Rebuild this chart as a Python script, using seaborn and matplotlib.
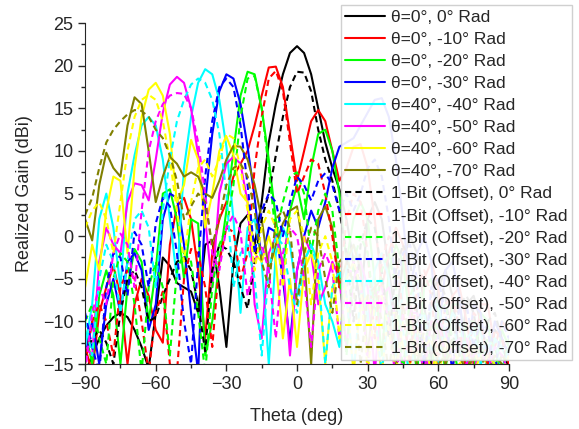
# Realized gain vs theta, 8 simulated beams + 8 1-bit (offset) beams.

import numpy as np
import pandas as pd
import seaborn as sns
import matplotlib
matplotlib.use('Agg')
import matplotlib.pyplot as plt
from matplotlib.ticker import MultipleLocator

sns.set_style('ticks')
plt.rcParams['font.family'] = ['Liberation Sans', 'DejaVu Sans']

# theta grid, 3 deg step, -90..90
theta = list(range(-90, 91, 3))

# solid: theta=0 / theta=40 beams
s0 = [-16, -14, -12, -10.5, -9.5, -9, -9.5, -11, -13, -15.5,
      -9, -2.5, -3.5, -5.5, -6, -6.5, -9, -1, -0.5, -6,
      -13, -3, 1.5, 2.5, -1, 4, 11, 15.5, 19, 21.5,
      22.3, 21.5, 19, 15, 11, 8, 5.5, 2, -3, -8,
      2, 4, 2, -4, -10, -3, 0, -2, -8, -15,
      -6, -4, -7, -14, -8, -7, -10, -16, -11, -12, -14]
s10 = [-13, -16, -9, -6, -3.5, -7, -15, -8, -5, -7,
       -11, -12.5, -1, 3.5, 4.5, 2, -4, -12, -2, 2,
       4, 7, 8.5, 10, 13, 16.5, 19.8, 19.9, 17.5, 12,
       6.5, 10, 13.5, 14.8, 13.5, 10, 6.5, 8, 10.5, 10.8,
       8, 2, -6, -2, 1, -1, -8, -14, -5, -3,
       -6, -15, -7, -6, -10, -15, -8, -8, -13, -10, -11]
s20 = [-11, -15, -7, -4, -7, -15, -6, -1.5, -3, -10,
       -4, 5, 5.5, 2, -5, 2, 1.5, -14, -10, -3,
       3, 10, 16.5, 19.3, 19, 15, 9, 2, -4, 3,
       6, 2, 8, 12, 12.5, 10, 5, -3, 2, 4,
       2, -5, -14, -4, -1, -3, -10, -16, -6, -5,
       -9, -16, -8, -8, -13, -16, -9, -10, -16, -11, -13]
s30 = [-14, -10, -15, -8, -5, -9, -3, -2, -4, -11,
       -8, 2, 5, 4.5, -1, -9, -16, 4, 12, 17,
       19, 18.5, 15.5, 10.5, 4.5, -3, 1, 0.5, -5, -12.5,
       -4, 0, 3, 1, 4, 8, 10.5, 11, 11.5, 13,
       14.5, 16, 16.2, 14, 9, 2, -6, -2, 0, -3,
       -12, -4, -3, -7, -16, -8, -9, -15, -10, -12, -14]
s40 = [-13, -8, 2, 5, 1, -6, 5, 9.5, 13, 14,
       13, 9, 2, -5, 8, 14, 18, 19.6, 19, 16,
       10.5, 2, -9, 1, 2, -3, -15, -2, 1, -1,
       -7, -3, -1, -3, -8, -10, -13, -4, -1, -3,
       -10, -4, -2, -5, -14, -6, -5, -9, -17, -8,
       -8, -12, -9, -10, -15, -10, -11, -16, -12, -13, -15]
s50 = [-13, -14, -3, 1, -1, -2, 4, 6.2, 6, 4.2,
       9, 14.5, 17.8, 18.7, 18, 15, 9.5, 2, -6, 5,
       8.5, 9.3, 8.5, 4, -8, -12, -2, 0, -3, -14,
       -4, 0, -2, -8, -6, -3, -5, -13, -5, -3,
       -6, -16, -7, -6, -10, -16, -9, -9, -13, -17,
       -10, -11, -15, -12, -12, -16, -13, -14, -16, -14, -15]
s60 = [-6, -1, -4, 3, 7, 6.5, -2, 8, 14, 17.2,
       18, 16.5, 12, 4, 6, 11.3, 9, 1, 5, 10,
       11.7, 9.5, 5, 4, -2, -3, 0, -3, -12, -5,
       -13, -4, -2, -5, -15, -6, -4, -7, -16, -8,
       -7, -11, -16, -9, -9, -13, -15, -11, -12, -16,
       -13, -12, -15, -14, -13, -16, -14, -15, -17, -14, -15]
s70 = [2, -0.5, 6, 9.8, 8, 7, 13, 16.3, 15.5, 10,
       4, 7, 9.3, 8.5, 7, 7.5, 7, 5, 4.5, 6.5,
       9, 10.6, 10.5, 9, 6, 2, -4, -1, 1.5, 3,
       3.5, -2, -15, 2, 3.5, 1, -6, -3, -1, -4,
       -14, -6, -5, -9, -16, -8, -8, -12, -16, -10,
       -11, -15, -13, -12, -16, -14, -13, -15, -16, -14, -15]

# dashed: 1-Bit (Offset)
d0 = [-14, -12, -11, -12.5, -15, -9, -5, -4, -6, -10,
      -9.5, -7, -5, -3, -2.5, -4, -8, -13.5, -4, -1,
      -1.5, -3, -6, -8.5, -3, 2, 5, 9.5, 14, 17.5,
      19.3, 19.2, 17, 12.5, 9, 6.5, 3, -2, -10, -1,
      2, 1, -4, -12, -4, -1, -3, -9, -15, -7,
      -5, -7, -13, -8, -7, -9, -14, -10, -9, -12, -16]
d10 = [-15, -10, -8, -10, -14, -6, -4, -5, -10, -16,
       -9, -6.5, -15, -16, -5, -1.5, -2, -6, -13, -3,
       1, 0.5, -5, -2, 8, 14, 18.5, 19.4, 17, 11,
       5, 7, 9, 8.5, 5, 0, -6, 2, 5, 4,
       -2, -12, -3, 0, -2, -9, -15, -6, -4, -7,
       -15, -8, -7, -11, -16, -9, -10, -15, -11, -12, -15]
d20 = [-10, -8, -12, -15, -5, -2, -3, -8, -16, -6,
       -3, -6, -14, -4, -2, -3, -9, -16, -6, -1,
       1, 6, 14, 18.5, 18.8, 15, 8, 0, 4, 7,
       7.5, 5, -2, 3, 5, 3, -4, -14, -3, 0,
       -2, -9, -4, -2, -6, -16, -7, -5, -9, -16,
       -9, -8, -12, -17, -10, -10, -14, -12, -13, -16, -12]
d30 = [-9, -13, -16, -6, -2, -2.5, -7, 0.5, -1, -6,
       1.5, 4.5, 3.5, -2, -10, -15, -3, 7, 13.5, 17.5,
       18.5, 17.5, 13, 6, -2, 3, 5, 4, 0, 4,
       7, 6, 4.2, 6.5, 7.4, 6, 3, 5, 3, 5,
       8, 9, 7, 2, -6, -2, -1, -5, -15, -6,
       -5, -9, -16, -8, -8, -13, -10, -11, -16, -10, -12]
d40 = [-10, -14, -5, -1, -3, -9, -3, 2, 3, 1,
       -6, 3, 9, 13.5, 16, 17.8, 18.5, 18, 16, 12,
       5, -6, -2, -1, -5, -14, -4, 0, -1, -6,
       -9, -3, -1, -4, -15, -6, -4, -7, -16, -7,
       -5, -9, -16, -8, -7, -11, -17, -10, -9, -13,
       -15, -10, -10, -14, -12, -11, -15, -13, -12, -16, -13]
d50 = [-16, -9, -6, -8, -2, 0.3, -1, -6, 3, 10,
       13.5, 15.5, 16.5, 16.8, 16.7, 15, 11, 5, -2, -4,
       1, 2.5, 0.5, -7, -3, -1, -4, -12, -2, 1,
       0, -5, -13, -4, -2, -4, -12, -6, -3, -5,
       -15, -7, -6, -10, -17, -9, -8, -12, -16, -10,
       -10, -14, -13, -12, -15, -14, -13, -16, -13, -14, -16]
d60 = [1, 3, 4, 2, -2, 4, 10, 14, 16, 16.6,
       16, 13.5, 9, 3, -3, 4, 8, 9, 7, 9,
       12, 11.5, 8, 3, -4, 1, 3, 1, -6, 2,
       3, 0, -8, -2, 0, -3, -12, -5, -3, -6,
       -16, -8, -7, -11, -16, -10, -10, -14, -13, -12,
       -16, -13, -13, -15, -14, -13, -16, -14, -15, -16, -14]
d70 = [2.5, 4.5, 8, 11, 12.5, 13.5, 14.3, 14.8, 14.7, 14,
       12.5, 11.5, 9.5, 6.5, 2, 3.5, 5, 4, -1, 2,
       6, 8, 8.5, 7, 3, -3, -6, 2, 3, 1,
       -8, -2, 1, 0, -5, -9, -3, -2, -6, -15,
       -7, -6, -10, -16, -9, -8, -12, -15, -11, -11,
       -15, -14, -12, -14, -16, -13, -14, -16, -14, -15, -16]

solid_labels = ['θ=0°, 0° Rad', 'θ=0°, -10° Rad', 'θ=0°, -20° Rad', 'θ=0°, -30° Rad',
                'θ=40°, -40° Rad', 'θ=40°, -50° Rad', 'θ=40°, -60° Rad', 'θ=40°, -70° Rad']
dash_labels = ['1-Bit (Offset), 0° Rad', '1-Bit (Offset), -10° Rad', '1-Bit (Offset), -20° Rad',
               '1-Bit (Offset), -30° Rad', '1-Bit (Offset), -40° Rad', '1-Bit (Offset), -50° Rad',
               '1-Bit (Offset), -60° Rad', '1-Bit (Offset), -70° Rad']
colors = ['#000000', '#ff0000', '#00ff00', '#0000ff', '#00ffff', '#ff00ff', '#ffff00', '#808000']

solid = [s0, s10, s20, s30, s40, s50, s60, s70]
dashed = [d0, d10, d20, d30, d40, d50, d60, d70]

fig = plt.figure(figsize=(5.79, 4.29), dpi=100)
ax = fig.add_axes([0.147, 0.1515, 0.732, 0.7945])

for vals, lab, c in zip(solid, solid_labels, colors):
    sns.lineplot(x=theta, y=vals, color=c, lw=1.5, label=lab, ax=ax)
for vals, lab, c in zip(dashed, dash_labels, colors):
    sns.lineplot(x=theta, y=vals, color=c, lw=1.5, label=lab, ax=ax, dashes=False)
    ax.lines[-1].set_dashes((3, 2))

ax.set_xlim(-90, 90)
ax.set_ylim(-15, 25)
ax.set_xticks([-90, -60, -30, 0, 30, 60, 90])
ax.set_yticks([-15, -10, -5, 0, 5, 10, 15, 20, 25])
ax.xaxis.set_minor_locator(MultipleLocator(15))
ax.yaxis.set_minor_locator(MultipleLocator(2.5))
ax.tick_params(which='major', direction='out', length=5, width=1, labelsize=13)
ax.tick_params(which='minor', direction='out', length=3, width=1)
sns.despine(ax=ax)
ax.set_xlabel('Theta (deg)', fontsize=13, labelpad=11)
ax.set_ylabel('Realized Gain (dBi)', fontsize=13, labelpad=7)

# legend handles: rebuild so dashed entries match
handles, labels = ax.get_legend_handles_labels()
for h in handles[8:]:
    h.set_dashes((3, 2))
leg = ax.legend(handles, labels, loc='upper right', bbox_to_anchor=(0.988, 0.988),
                bbox_transform=fig.transFigure, fontsize=12.5, frameon=True,
                framealpha=0.92, edgecolor='#cccccc', fancybox=False,
                handlelength=2.3, handletextpad=0.35, labelspacing=0.4,
                borderpad=0.25, borderaxespad=0)

fig.savefig('out.png', dpi=100)
